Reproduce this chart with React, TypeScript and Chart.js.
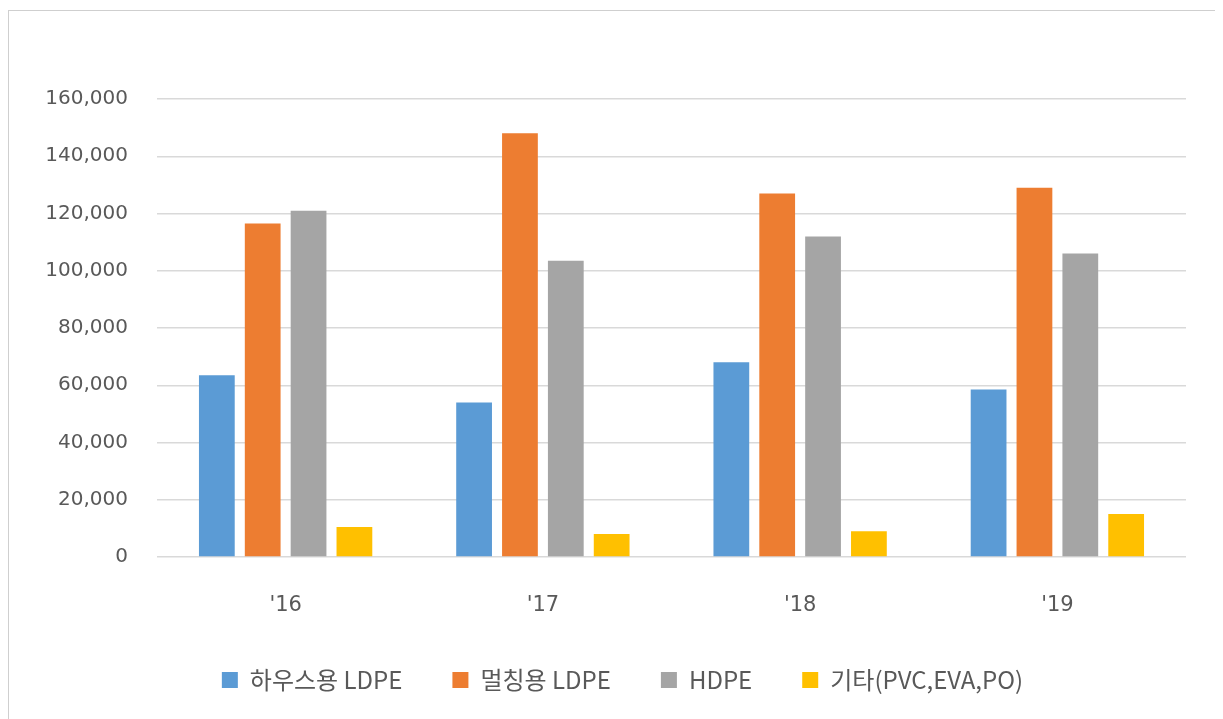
import React, { useEffect, useRef } from "react";
import { Chart, registerables } from "chart.js";

Chart.register(...registerables);

const categories = ["'16", "'17", "'18", "'19"];
const houseLDPE = [63500, 54000, 68000, 58500];
const mulchLDPE = [116500, 148000, 127000, 129000];
const hdpe = [121000, 103500, 112000, 106000];
const others = [10500, 8000, 9000, 15000];
const seriesNames = ["하우스용 LDPE", "멀칭용 LDPE", "HDPE", "기타(PVC,EVA,PO)"];
const seriesColors = ["#5B9BD5", "#ED7D31", "#A5A5A5", "#FFC000"];
const yMax = 160000;
const yStep = 20000;

const legendShift = {
  id: "legendShift",
  afterLayout(chart: any) {
    const lg = chart.legend;
    if (lg) {
      lg.left += 25;
      lg.right += 25;
    }
  },
};

export default function App() {
  const canvasRef = useRef<HTMLCanvasElement | null>(null);

  useEffect(() => {
    document.documentElement.style.overflow = "hidden";
    const ctx = canvasRef.current;
    if (!ctx) return;
    const seriesData = [houseLDPE, mulchLDPE, hdpe, others];
    const chart = new Chart(ctx, {
      type: "bar",
      data: {
        labels: categories,
        datasets: seriesData.map((d, i) => ({
          label: seriesNames[i],
          data: d,
          backgroundColor: seriesColors[i],
          borderWidth: 0,
          categoryPercentage: 0.713,
          barPercentage: 0.78,
        })),
      },
      plugins: [legendShift],
      options: {
        animation: false,
        responsive: true,
        maintainAspectRatio: false,
        locale: "en-US",
        layout: { padding: { left: 0, right: 35, top: 88, bottom: 17 } },
        plugins: {
          tooltip: { enabled: false },
          legend: {
            position: "bottom",
            labels: {
              boxWidth: 16,
              boxHeight: 16,
              padding: 50,
              color: "#595959",
              font: { size: 24, family: "'Noto Sans CJK KR', sans-serif" },
            },
          },
        },
        scales: {
          x: {
            grid: { display: false, drawTicks: false },
            border: { display: false },
            ticks: {
              padding: 36,
              color: "#595959",
              font: { size: 21, family: "'DejaVu Sans', sans-serif" },
            },
            afterFit: (scale: any) => {
              scale.height = 61;
            },
          },
          y: {
            min: 0,
            max: yMax,
            grid: { color: "#d9d9d9", lineWidth: 1.5, drawTicks: false },
            border: { display: false },
            ticks: {
              stepSize: yStep,
              padding: 29,
              color: "#595959",
              font: { size: 20, family: "'DejaVu Sans', sans-serif" },
            },
            afterFit: (scale: any) => {
              scale.width = 148;
            },
          },
        },
      },
    });
    return () => chart.destroy();
  }, []);

  return (
    <div
      style={{
        position: "relative",
        top: 2,
        width: 1212,
        height: 720,
        border: "1px solid #cfcfcf",
        background: "#ffffff",
      }}
    >
      <div style={{ width: 1212, height: 708, position: "relative" }}>
        <canvas ref={canvasRef} />
      </div>
    </div>
  );
}
